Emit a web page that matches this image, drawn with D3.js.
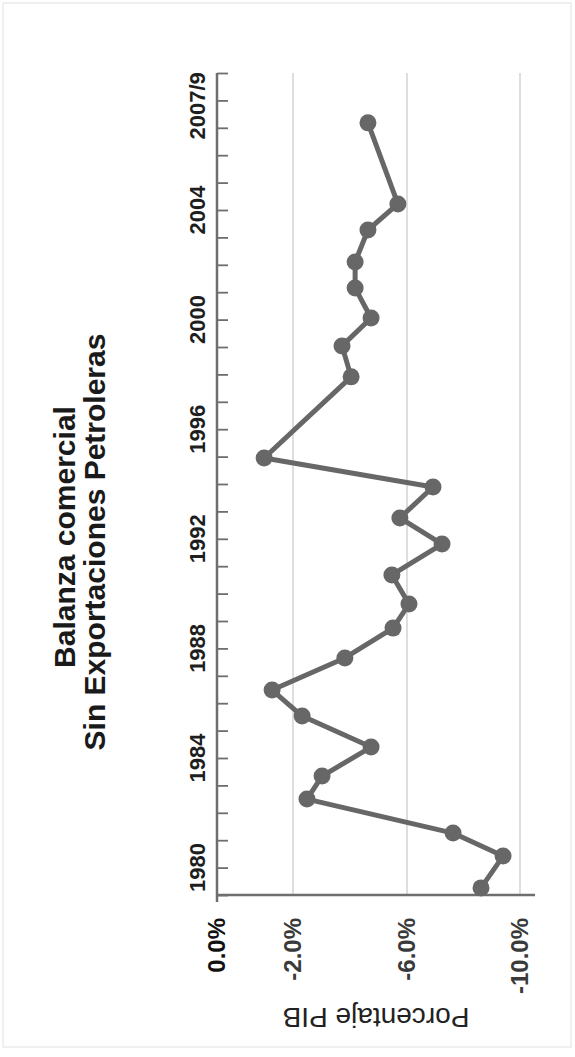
<!DOCTYPE html>
<html>
<head>
<meta charset="utf-8">
<script src="https://cdn.jsdelivr.net/npm/d3@7"></script>
<style>
  html, body { margin: 0; padding: 0; background: #fff; }
  svg { display: block; font-family: "Liberation Sans", Arial, Helvetica, sans-serif; }
</style>
</head>
<body>
<svg id="chart" width="575" height="1057"></svg>
<script>
// ---- Data ----
const titleLines = ["Balanza comercial", "Sin Exportaciones Petroleras"];
const axisTitle = "Porcentaje PIB";

// point positions on the year axis and their values (% of GDP)
const pointYears = [1979.26, 1980.42, 1981.26, 1982.50, 1983.34, 1984.40, 1985.53, 1986.48,
                    1987.65, 1988.74, 1989.62, 1990.68, 1991.81, 1992.76, 1993.89, 1994.95,
                    1997.91, 1999.04, 2000.06, 2001.15, 2002.10, 2003.27, 2004.22, 2007.18];
const pointValues = [-8.62, -9.40, -7.63, -2.49, -3.02, -4.74, -2.32, -1.45,
                     -3.82, -5.51, -6.07, -5.47, -7.24, -5.75, -6.92, -1.24,
                     -4.04, -3.72, -4.74, -4.18, -4.18, -4.63, -5.68, -4.63];

const tickYears = d3.range(1979, 2010);
const labelYears = [1980, 1984, 1988, 1992, 1996, 2000, 2004, 2007.8];
const labelYearText = ["1980", "1984", "1988", "1992", "1996", "2000", "2004", "2007/9"];

const valueTicks = [0, -2, -6, -10];
const valueTickLabels = ["0.0%", "-2.0%", "-6.0%", "-10.0%"];

// ---- Drawing ----
const svg = d3.select("#chart");

// light frame
svg.append("rect").attr("x", 3).attr("y", 3).attr("width", 568).attr("height", 1044)
  .attr("fill", "none").attr("stroke", "#e2e2e2").attr("stroke-width", 1);

const yScale = d3.scaleLinear().domain([1979, 2009]).range([895, 73]);
const xScale = d3.scaleLinear().domain(valueTicks).range([217, 293, 407, 520]);

// gridlines
svg.append("g").selectAll("line")
  .data(valueTicks.slice(1))
  .join("line")
  .attr("x1", d => xScale(d)).attr("x2", d => xScale(d))
  .attr("y1", yScale(2009)).attr("y2", yScale(1979))
  .attr("stroke", "#bdbdbd").attr("stroke-width", 1);

// year axis (vertical) with yearly ticks
const yAxis = d3.axisRight(yScale).tickValues(tickYears).tickSize(11).tickSizeOuter(0).tickFormat("");
const gy = svg.append("g").attr("transform", `translate(${xScale(0)},0)`).call(yAxis);
gy.select(".domain").attr("stroke", "#6e6e6e").attr("stroke-width", 2.5)
  .attr("d", `M0,${yScale(2009)}V${yScale(1979) + 7}`);
gy.selectAll(".tick line").attr("stroke", "#6e6e6e").attr("stroke-width", 1.8);

// value axis baseline (horizontal)
svg.append("line")
  .attr("x1", xScale(0)).attr("x2", 535)
  .attr("y1", yScale(1979)).attr("y2", yScale(1979))
  .attr("stroke", "#6e6e6e").attr("stroke-width", 2.5);

// year labels (rotated)
svg.append("g").selectAll("text")
  .data(labelYears)
  .join("text")
  .attr("transform", d => `translate(205,${yScale(d)}) rotate(-90)`)
  .attr("text-anchor", "middle")
  .attr("font-size", 22).attr("font-weight", "bold").attr("fill", "#1e1e1e")
  .text((d, i) => labelYearText[i]);

// value tick labels (rotated)
svg.append("g").selectAll("text")
  .data(valueTicks)
  .join("text")
  .attr("transform", d => `translate(${xScale(d)},918) rotate(-90)`)
  .attr("dy", "0.35em")
  .attr("text-anchor", "end")
  .attr("font-size", 24).attr("font-weight", "bold")
  .attr("fill", (d, i) => i === 0 ? "#111" : "#3a3a3a")
  .text((d, i) => valueTickLabels[i]);

// axis title (upside down)
svg.append("text")
  .attr("transform", "translate(376,1008) rotate(180)")
  .attr("text-anchor", "middle")
  .attr("font-size", 28).attr("fill", "#222")
  .text(axisTitle);

// chart title (rotated)
const titlePos = [[75, 537], [105, 542]];
svg.append("g").selectAll("text")
  .data(titleLines)
  .join("text")
  .attr("transform", (d, i) => `translate(${titlePos[i][0]},${titlePos[i][1]}) rotate(-90)`)
  .attr("text-anchor", "middle")
  .attr("font-size", 30).attr("font-weight", "bold").attr("fill", "#1a1a1a")
  .text(d => d);

// data line + markers
const pts = pointYears.map((yr, i) => ({ yr, v: pointValues[i] }));
const line = d3.line().x(d => xScale(d.v)).y(d => yScale(d.yr));
svg.append("path").datum(pts)
  .attr("d", line)
  .attr("fill", "none").attr("stroke", "#676767").attr("stroke-width", 5)
  .attr("stroke-linejoin", "round");
svg.append("g").selectAll("circle")
  .data(pts)
  .join("circle")
  .attr("cx", d => xScale(d.v)).attr("cy", d => yScale(d.yr))
  .attr("r", 8.5).attr("fill", "#676767");
</script>
</body>
</html>
